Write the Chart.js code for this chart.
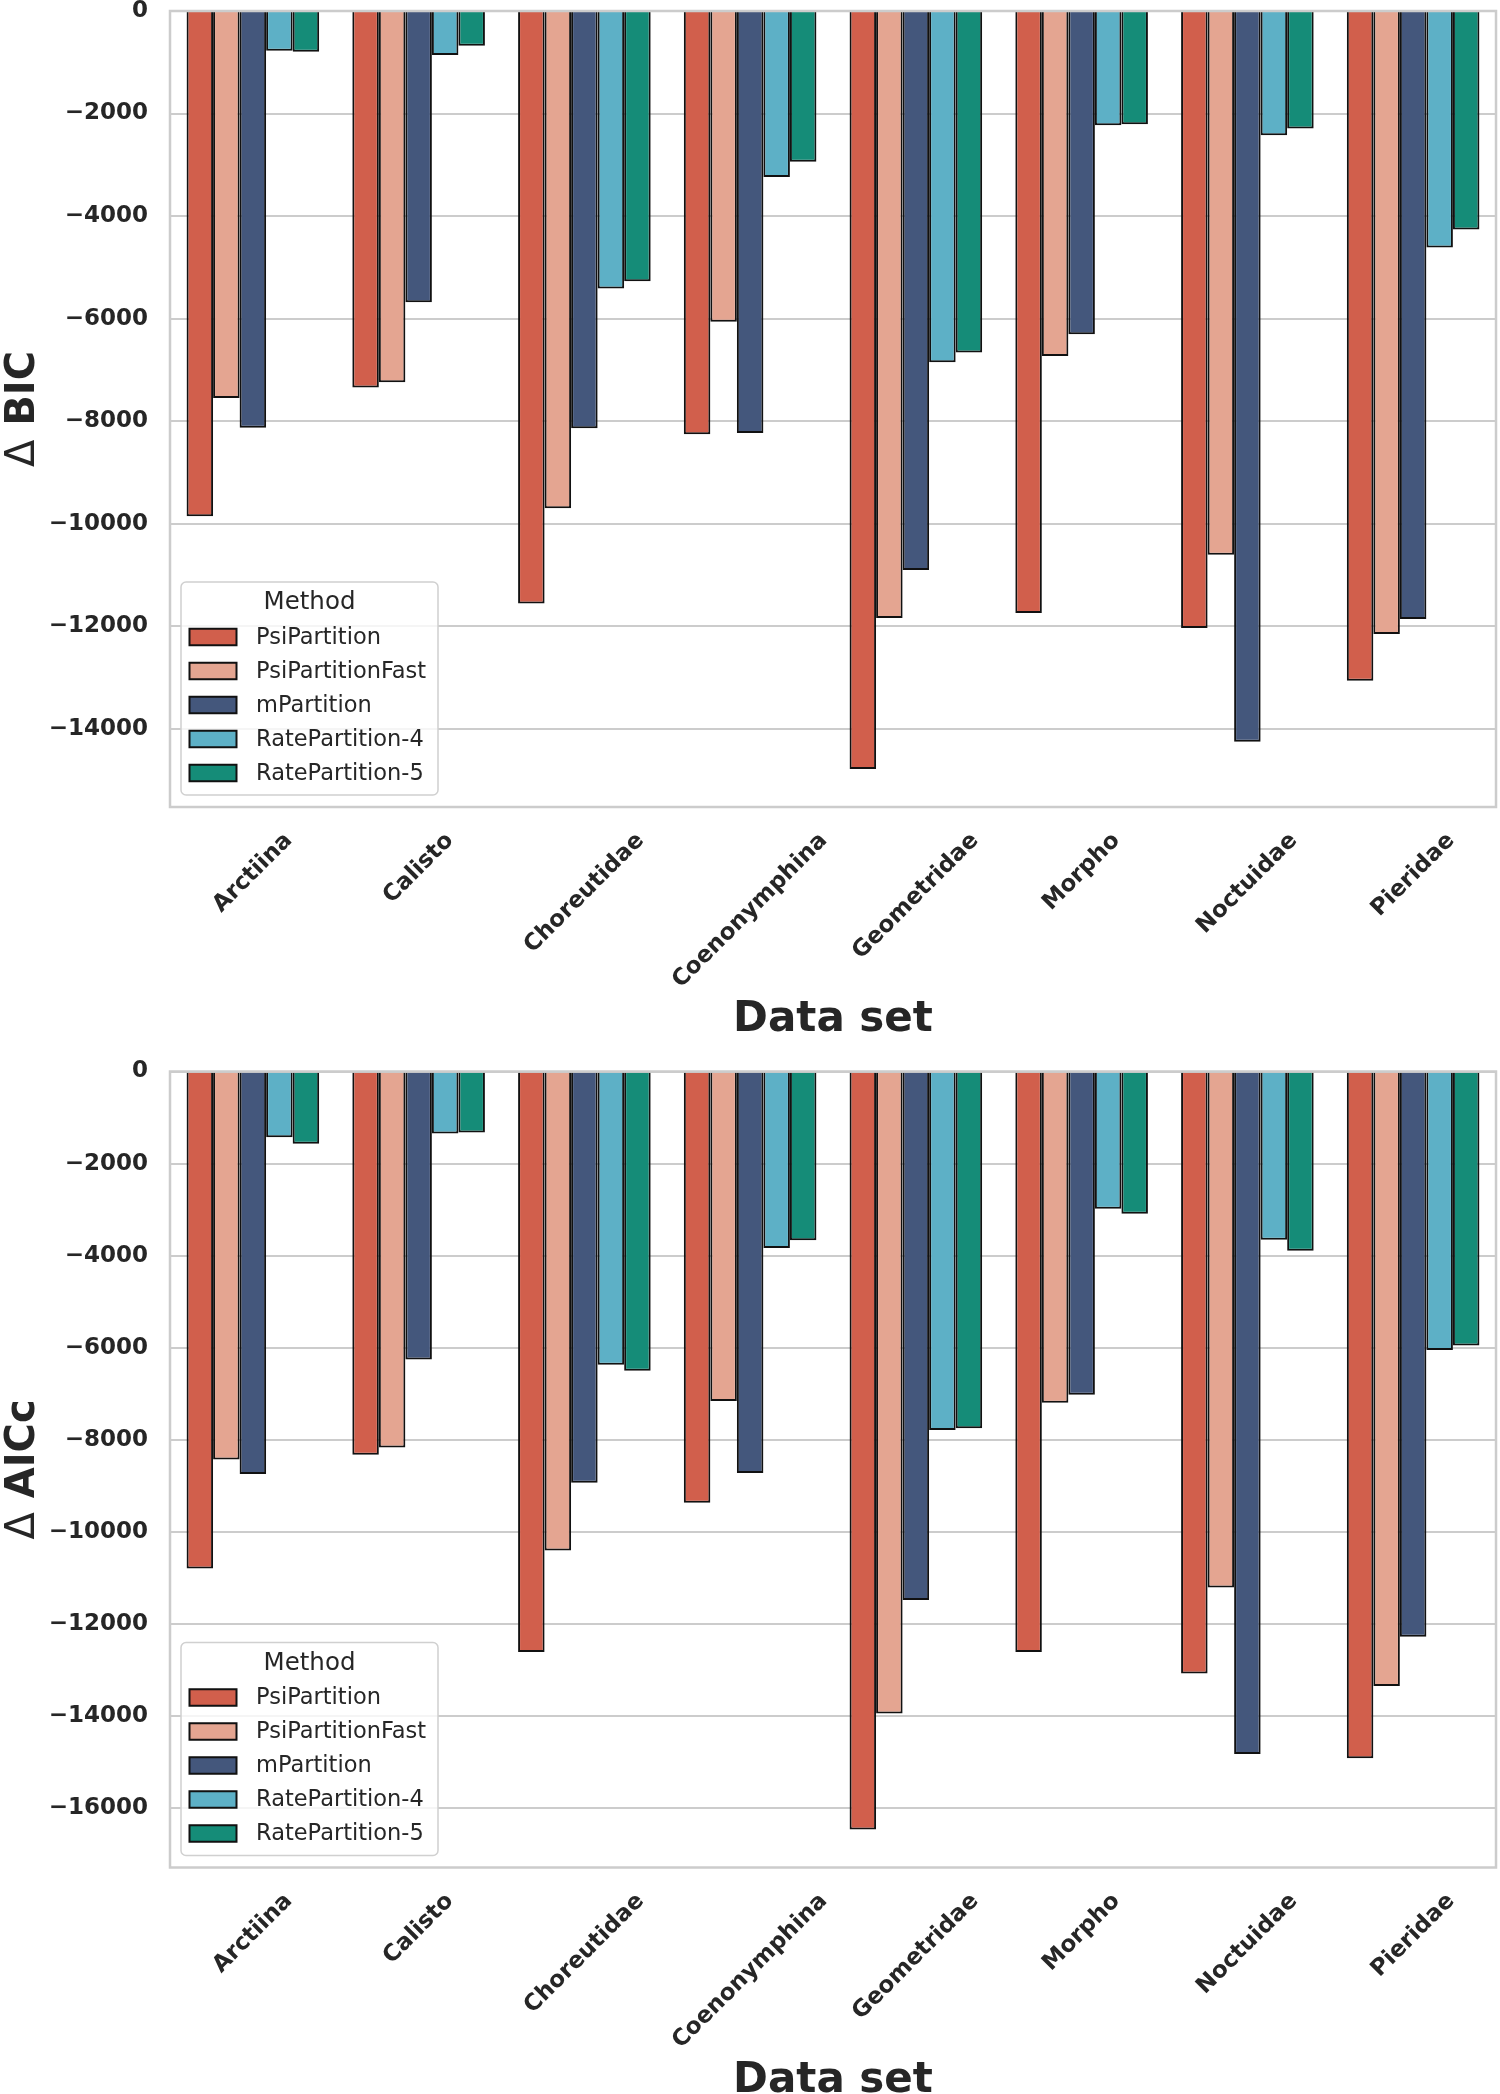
<!DOCTYPE html>
<html>
<head>
<meta charset="utf-8">
<script src="https://cdn.jsdelivr.net/npm/chart.js@4.4.1/dist/chart.umd.min.js"></script>
<style>
  body { margin: 0; background: #fff; }
  #wrap { position: relative; width: 1500px; height: 2094px; overflow: hidden; }
  canvas { position: absolute; left: 0; }
</style>
</head>
<body>
<div id="wrap">
  <canvas id="bic" width="1500" height="1050" style="top:0"></canvas>
  <canvas id="aic" width="1500" height="1044" style="top:1050px"></canvas>
</div>
<script>
// data sets and methods
const categories = ['Arctiina', 'Calisto', 'Choreutidae', 'Coenonymphina', 'Geometridae', 'Morpho', 'Noctuidae', 'Pieridae'];
const methods = ['PsiPartition', 'PsiPartitionFast', 'mPartition', 'RatePartition-4', 'RatePartition-5'];
const colors = ['#d15f4c', '#e4a591', '#44577c', '#5db0c6', '#158c78'];

// y tick values
const bicTicks = [0, -2000, -4000, -6000, -8000, -10000, -12000, -14000];
const aicTicks = [0, -2000, -4000, -6000, -8000, -10000, -12000, -14000, -16000];

// delta BIC
const bicPsi = [-9856, -7344, -11556, -8255, -14788, -11744, -12036, -13064];
const bicPsiFast = [-7550, -7242, -9699, -6064, -11843, -6728, -10607, -12153];
const bicM = [-8131, -5681, -8138, -8234, -10905, -6304, -14254, -11861];
const bicRate4 = [-773, -856, -5414, -3237, -6851, -2231, -2423, -4613];
const bicRate5 = [-794, -678, -5270, -2943, -6660, -2211, -2293, -4264];

// delta AICc
const aicPsi = [-10787, -8318, -12604, -9365, -16458, -12600, -13071, -14911];
const aicPsiFast = [-8425, -8165, -10398, -7156, -13937, -7194, -11200, -13340];
const aicM = [-8739, -6254, -8930, -8716, -11475, -7018, -14818, -12274];
const aicRate4 = [-1430, -1346, -6369, -3830, -7783, -2982, -3654, -6047];
const aicRate5 = [-1567, -1323, -6498, -3662, -7745, -3089, -3891, -5948];

const TXT = '#262626';
const FONT = '"DejaVu Sans", sans-serif';

// frame, rotated x labels, axis titles and the legend box
const decor = {
  id: 'decor',
  afterDatasetsDraw(chart) {
    const { ctx, chartArea: a } = chart;
    ctx.save();
    ctx.strokeStyle = '#cccccc';
    ctx.lineWidth = 2.5;
    ctx.strokeRect(a.left, a.top, a.right - a.left, a.bottom - a.top);
    ctx.restore();
  },
  afterDraw(chart, args, opts) {
    const { ctx, chartArea: a } = chart;
    const x = chart.scales.x;
    ctx.save();
    ctx.fillStyle = TXT;

    // x tick labels, centred on the tick, 45 degrees
    ctx.font = 'bold 23px ' + FONT;
    ctx.textAlign = 'center';
    ctx.textBaseline = 'middle';
    chart.data.labels.forEach((lab, i) => {
      const w = ctx.measureText(lab).width;
      const half = (w + 17) * Math.SQRT1_2 / 2;
      ctx.save();
      ctx.translate(x.getPixelForTick(i), a.bottom + 24 + half);
      ctx.rotate(-Math.PI / 4);
      ctx.fillText(lab, 0, 0);
      ctx.restore();
    });

    // y title: thin delta + bold name
    ctx.textBaseline = 'alphabetic';
    ctx.textAlign = 'left';
    ctx.font = '40px ' + FONT;
    const dW = ctx.measureText('\u0394').width;
    ctx.font = 'bold 40px ' + FONT;
    const rest = ' ' + opts.yTitle;
    const rW = ctx.measureText(rest).width;
    ctx.save();
    ctx.translate(34, (a.top + a.bottom) / 2);
    ctx.rotate(-Math.PI / 2);
    const sx = -(dW + rW) / 2;
    ctx.font = '40px ' + FONT;
    ctx.fillText('\u0394', sx, 0);
    ctx.font = 'bold 40px ' + FONT;
    ctx.fillText(rest, sx + dW, 0);
    ctx.restore();

    // x title
    ctx.font = 'bold 42px ' + FONT;
    ctx.textAlign = 'center';
    ctx.fillText(opts.xTitle, (a.left + a.right) / 2, a.bottom + 224);

    // legend
    const lw = 257, lh = 213;
    const lx = a.left + 11, ly = a.bottom - 12 - lh;
    ctx.beginPath();
    ctx.roundRect(lx, ly, lw, lh, 5);
    ctx.fillStyle = 'rgba(255,255,255,0.8)';
    ctx.fill();
    ctx.strokeStyle = '#d0d0d0';
    ctx.lineWidth = 1.5;
    ctx.stroke();
    ctx.fillStyle = TXT;
    ctx.font = '24.5px ' + FONT;
    ctx.textAlign = 'center';
    ctx.textBaseline = 'middle';
    ctx.fillText('Method', lx + lw / 2, ly + 21);
    ctx.font = '22.5px ' + FONT;
    ctx.textAlign = 'left';
    chart.data.datasets.forEach((ds, i) => {
      const cy = ly + 55 + 34 * i;
      ctx.fillStyle = ds.backgroundColor;
      ctx.fillRect(lx + 8.5, cy - 8.25, 47, 16.5);
      ctx.strokeStyle = '#111';
      ctx.lineWidth = 2;
      ctx.strokeRect(lx + 8.5, cy - 8.25, 47, 16.5);
      ctx.fillStyle = TXT;
      ctx.fillText(ds.label, lx + 75, cy + 1);
    });
    ctx.restore();
  }
};

function makeChart(id, series, yTicks, yTitle, padTop, bottom) {
  const cv = document.getElementById(id);
  const all = series.flat();
  const yMin = Math.min(...all) * 1.05;
  return new Chart(cv, {
    type: 'bar',
    data: {
      labels: categories,
      datasets: series.map((vals, i) => ({
        label: methods[i],
        data: vals,
        backgroundColor: colors[i],
        borderColor: '#111',
        borderWidth: 2,
        categoryPercentage: 0.8,
        barPercentage: 1.0
      }))
    },
    options: {
      responsive: false,
      animation: false,
      devicePixelRatio: 1,
      layout: { padding: { top: padTop, right: 4, bottom: 0, left: 0 } },
      plugins: {
        legend: { display: false },
        tooltip: { enabled: false },
        decor: { yTitle: yTitle, xTitle: 'Data set' }
      },
      scales: {
        x: {
          grid: { display: false },
          border: { display: false },
          ticks: { display: false },
          afterFit(s) { s.height = cv.height - bottom; s.paddingLeft = 0; s.paddingRight = 0; }
        },
        y: {
          min: yMin,
          max: 0,
          border: { display: false },
          grid: { color: '#cccccc', lineWidth: 2, drawTicks: false },
          ticks: {
            padding: 22,
            color: TXT,
            font: { family: FONT, size: 23, weight: 'bold' },
            callback: v => v < 0 ? '\u2212' + Math.abs(v) : String(v)
          },
          afterBuildTicks(s) { s.ticks = yTicks.map(v => ({ value: v })); },
          afterFit(s) { s.width = 170; s.paddingTop = 0; s.paddingBottom = 0; }
        }
      }
    },
    plugins: [decor]
  });
}

makeChart('bic', [bicPsi, bicPsiFast, bicM, bicRate4, bicRate5], bicTicks, 'BIC', 11, 807);
makeChart('aic', [aicPsi, aicPsiFast, aicM, aicRate4, aicRate5], aicTicks, 'AICc', 21.5, 817.5);
</script>
</body>
</html>
